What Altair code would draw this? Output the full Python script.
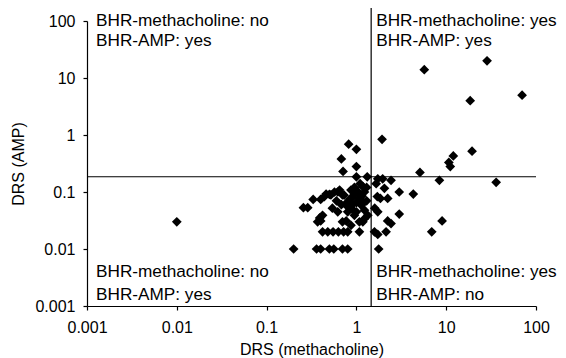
import altair as alt
import pandas as pd

# Scatter values: DRS (methacholine) vs DRS (AMP)
drs_mch = [
    0.01,
    5.7, 28.5, 18.5, 70,
    1.93, 19.4, 12, 10.7, 11.1, 5.1, 8.4, 36,
    9.0, 6.9, 4.3, 3.0, 3.0,
    0.82, 1.0, 0.68, 1.0, 0.71, 1.0, 1.32,
    1.73, 1.96, 2.43, 1.66, 2.05, 1.18,
    1.71, 1.85, 2.23, 1.6, 1.73, 2.23, 2.43, 1.59, 1.73, 2.14, 1.77,
    0.2, 0.36, 0.4, 0.5, 0.56, 0.7, 0.8,
    0.42, 0.48, 0.55, 0.63, 0.72, 0.8, 1.08,
    0.37, 0.4, 0.42, 0.39, 0.7, 0.77, 1.18, 0.87, 1.08, 1.23,
    0.33, 0.257, 0.287, 0.44, 0.5, 0.57, 0.65, 0.46, 0.62, 0.4, 0.52, 0.7, 0.54,
    0.73, 0.87, 1.23, 1.08, 1.13, 0.8, 0.95, 1.23, 1.34, 0.78, 0.85, 0.9, 0.95,
    1.0, 1.05, 0.8, 1.0, 0.9, 1.3, 1.15, 0.68, 0.62, 0.6, 0.95, 1.3, 1.1, 0.9, 1.2,
]
drs_amp = [
    0.03,
    14, 20, 4, 5,
    0.84, 0.52, 0.43, 0.33, 0.28, 0.22, 0.16, 0.148,
    0.031, 0.02, 0.092, 0.1, 0.041,
    0.69, 0.56, 0.38, 0.28, 0.23, 0.185, 0.185,
    0.17, 0.17, 0.16, 0.14, 0.116, 0.124,
    0.083, 0.077, 0.077, 0.052, 0.045, 0.031, 0.028, 0.02, 0.018, 0.02, 0.01,
    0.01, 0.01, 0.01, 0.01, 0.01, 0.01, 0.01,
    0.02, 0.02, 0.02, 0.02, 0.02, 0.02, 0.02,
    0.03, 0.031, 0.039, 0.035, 0.03, 0.031, 0.03, 0.026, 0.03, 0.034,
    0.074, 0.053, 0.053, 0.083, 0.091, 0.1, 0.108, 0.092, 0.1, 0.074, 0.089, 0.089, 0.052,
    0.088, 0.108, 0.1, 0.077, 0.059, 0.045, 0.039, 0.048, 0.039, 0.065, 0.075, 0.06, 0.09,
    0.065, 0.1, 0.055, 0.045, 0.05, 0.07, 0.085, 0.06, 0.045, 0.07, 0.12, 0.12, 0.14, 0.08, 0.065,
]

tick_values = [0.001, 0.01, 0.1, 1, 10, 100]

# Threshold lines
thr_mch = 1.46
thr_amp = 0.185

# Quadrant annotations
quad_x = [0.00126, 0.00126, 1.66, 1.66, 0.00126, 0.00126, 1.66, 1.66]
quad_y = [102, 44, 102, 44, 0.0039, 0.00155, 0.0039, 0.00155]
quad_text = [
    "BHR-methacholine: no", "BHR-AMP: yes",
    "BHR-methacholine: yes", "BHR-AMP: yes",
    "BHR-methacholine: no", "BHR-AMP: yes",
    "BHR-methacholine: yes", "BHR-AMP: no",
]

pts = pd.DataFrame({"x": drs_mch, "y": drs_amp})
hline = pd.DataFrame({"x": [0.001], "x2": [100], "y": [thr_amp]})
vline = pd.DataFrame({"x": [thr_mch], "y": [0.001], "y2": [175]})
labels = pd.DataFrame({"x": quad_x, "y": quad_y, "t": quad_text})

xs = alt.Scale(type="log", domain=[0.001, 100], nice=False)
ys = alt.Scale(type="log", domain=[0.001, 100], nice=False)
xax = alt.Axis(values=tick_values, format="~g", grid=False, labelFlush=False,
               labelOverlap=False, labelPadding=9, titlePadding=6)
yax = alt.Axis(values=tick_values, format="~g", grid=False, labelFlush=False,
               labelOverlap=False, labelPadding=8, titlePadding=8)

def X():
    return alt.X("x:Q", scale=xs, title="DRS (methacholine)", axis=xax)

def Y():
    return alt.Y("y:Q", scale=ys, title="DRS (AMP)", axis=yax)

points = alt.Chart(pts).mark_point(
    shape="diamond", filled=True, color="black", size=95, opacity=1
).encode(x=X(), y=Y())

h = alt.Chart(hline).mark_rule(color="black", strokeWidth=1.2).encode(
    x=X(), x2="x2:Q", y=Y(),
)
v = alt.Chart(vline).mark_rule(color="black", strokeWidth=1.2).encode(
    x=X(), y=Y(), y2="y2:Q",
)
txt = alt.Chart(labels).mark_text(
    align="left", baseline="middle", fontSize=17.2, font="Liberation Sans", color="black"
).encode(x=X(), y=Y(), text="t:N")

chart = alt.layer(points, h, v, txt).properties(
    width=449, height=285,
    autosize="none",
    padding={"left": 79, "top": 13, "right": 22, "bottom": 52},
).configure_view(stroke=None).configure_axis(
    domainColor="black", tickColor="black", labelColor="black", titleColor="black",
    labelFont="Liberation Sans", titleFont="Liberation Sans",
    labelFontSize=16, titleFontSize=16, titleFontWeight="normal",
    tickSize=4, domainWidth=1.2, tickWidth=1.2,
)

chart.save("out.html", embed_options={"renderer": "svg", "actions": False})
